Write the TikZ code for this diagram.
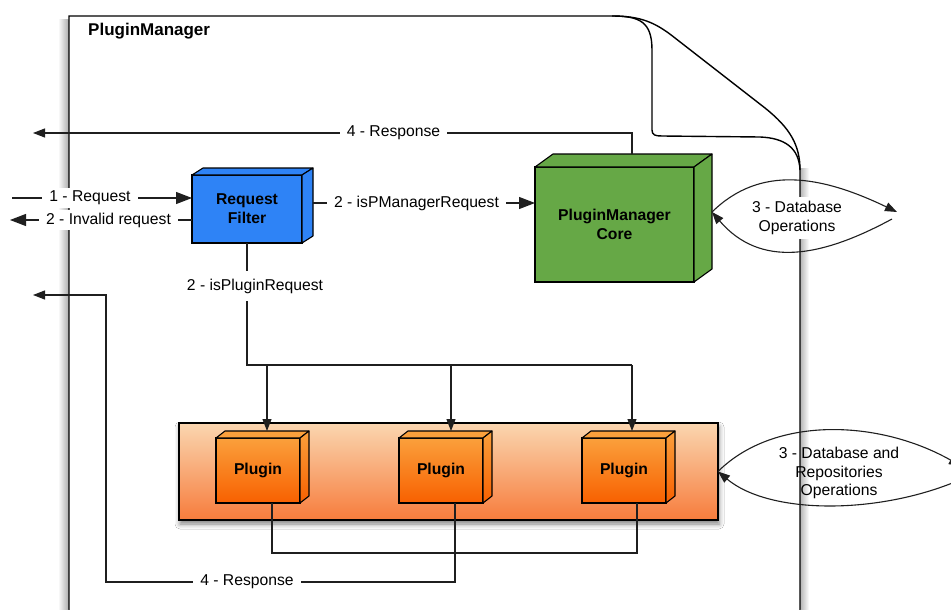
\documentclass[tikz,border=0pt]{standalone}
\usepackage{fontspec}
\setmainfont{Liberation Sans}
\usetikzlibrary{arrows.meta,calc,shadows.blur}
\definecolor{filterblue}{RGB}{46,131,246}
\definecolor{coregreen}{RGB}{102,168,70}
\definecolor{pltop}{RGB}{250,160,60}
\definecolor{plbot}{RGB}{248,96,0}
\definecolor{contop}{RGB}{250,214,176}
\definecolor{conbot}{RGB}{247,124,60}
\newcommand{\cubefaces}[5]{%
  \draw[face,#4] (#1.north west) -- ($(#1.north west)+(#2,-#3)$) -- ($(#1.north east)+(#2,-#3)$) -- (#1.north east) -- cycle;
  \draw[face,#5] (#1.north east) -- ($(#1.north east)+(#2,-#3)$) -- ($(#1.south east)+(#2,-#3)$) -- (#1.south east) -- cycle;}
\begin{document}
\begin{tikzpicture}[x=1pt,y=-1pt,
  ln/.style={draw=black!88, line width=1.1pt},
  arr/.style={ln, -{Triangle[length=12pt,width=9pt]}},
  bigarr/.style={ln, -{Triangle[length=16pt,width=12pt]}},
  lbl/.style={fill=white, inner xsep=7pt, inner ysep=3pt, font=\fontsize{15.7}{18.5}\selectfont, align=center},
  bold/.style={font=\fontsize{15.7}{19}\selectfont\bfseries, align=center},
  cube/.style={draw=black, line width=1.1pt, outer sep=0pt, inner sep=0pt},
  face/.style={draw=black, line width=1.1pt, line join=round},
  frameline/.style={draw=black, line width=1.4pt},
]
\useasboundingbox (0,0) rectangle (951,610);
\clip (0,0) rectangle (951,610);
\fill[white] (0,0) rectangle (951,610);

% frame shadows
\shade[left color=white, right color=black!32] (58,20) rectangle (68.5,615);
\shade[left color=black!28, right color=white] (800.5,168) rectangle (809,615);

% frame
\draw[frameline] (69,615) -- (69,16) -- (612,16) .. controls (640,16) and (655,22) .. (675,38) -- (765,108) .. controls (790,128) and (800,145) .. (800,170) -- (800,615);
\draw[frameline] (612,16) .. controls (640,16) and (652,22) .. (652,50) -- (652,130) .. controls (652,135) and (655,136) .. (662,136) -- (760,137) .. controls (785,138) and (799,148) .. (800,170);
\node[anchor=west, inner sep=0pt, font=\fontsize{17}{20}\selectfont\bfseries] (title) at (88,31.5) {PluginManager};

% request filter
\node[cube, bold, fill=filterblue, minimum width=110pt, minimum height=68pt] (filter) at (247,209) {Request\\Filter};
\cubefaces{filter}{11}{7}{fill=filterblue}{fill=filterblue}

% core
\node[cube, bold, fill=coregreen, minimum width=159pt, minimum height=115pt] (core) at (614.5,224.5) {PluginManager\\Core};
\cubefaces{core}{18}{13}{fill=coregreen}{fill=coregreen}

% plugin container
\node[cube, top color=contop, bottom color=conbot, minimum width=539pt, minimum height=97pt,
  blur shadow={shadow xshift=1pt, shadow yshift=-4pt, shadow blur radius=5pt, shadow opacity=50}] (plugs) at (448.5,471.5) {};

% plugins
\node[cube, bold, top color=pltop, bottom color=plbot, minimum width=84pt, minimum height=65pt] (p1) at (258,470.5) {Plugin};
\cubefaces{p1}{9}{7}{fill=pltop}{top color=pltop, bottom color=plbot}
\node[cube, bold, top color=pltop, bottom color=plbot, minimum width=84pt, minimum height=65pt] (p2) at (441,470.5) {Plugin};
\cubefaces{p2}{9}{7}{fill=pltop}{top color=pltop, bottom color=plbot}
\node[cube, bold, top color=pltop, bottom color=plbot, minimum width=84pt, minimum height=65pt] (p3) at (624,470.5) {Plugin};
\cubefaces{p3}{9}{7}{fill=pltop}{top color=pltop, bottom color=plbot}

% top response
\coordinate (coreTop) at ([xshift=17.5pt, yshift=13pt]core.north);
\coordinate (respOut1) at (33,133);
\draw[arr] (coreTop) |- (respOut1);
\node[lbl] (lresp1) at (393.5,133) {4 - Response};

% request / invalid request
\coordinate (reqIn) at (12,198);
\draw[bigarr] (reqIn) -- (reqIn -| filter.west);
\node[lbl] (lreq) at (90,198) {1 - Request};
\coordinate (invOut) at (10,220);
\draw[bigarr] (invOut -| filter.west) -- (invOut);
\node[lbl] (linv) at (108.5,220) {2 - Invalid request};

% pm request
\coordinate (pmStart) at ([xshift=11pt, yshift=6pt]filter.east);
\draw[bigarr] (pmStart) -- (pmStart -| core.west);
\node[lbl] (lpm) at (416.5,203) {2 - isPManagerRequest};

% plugin request bus
\coordinate (bus1) at (267,365);
\coordinate (bus2) at (451,365);
\coordinate (bus3) at (632,365);
\draw[ln] (filter.south) |- (bus3);
\node[lbl, inner ysep=8pt] (lpr) at (255,286) {2 - isPluginRequest};
\coordinate (p1top) at ([yshift=7pt]p1.north);
\coordinate (p2top) at ([yshift=7pt]p2.north);
\coordinate (p3top) at ([yshift=7pt]p3.north);
\draw[arr] (bus1) -- (bus1 |- p1top);
\draw[arr] (bus2) -- (bus2 |- p2top);
\draw[arr] (bus3) -- (bus3 |- p3top);

% plugin returns
\coordinate (p1out) at ([xshift=14pt]p1.south);
\coordinate (p3out) at ([xshift=13pt]p3.south);
\draw[ln] (p1out) -- ++(0,50) -| (p3out);
\coordinate (p2out) at ([xshift=14pt]p2.south);
\coordinate (bend) at (106,582);
\coordinate (respOut2) at (33,295);
\draw[arr] (p2out) |- (bend) |- (respOut2);
\node[lbl] (lresp2) at (247,582) {4 - Response};

% database operations lens
\coordinate (coreSide) at ([xshift=18pt, yshift=12.5pt]core.east);
\coordinate (dbR1) at (897,212);
\coordinate (dbR2) at (892,219);
\draw[arr] (coreSide) .. controls (760,165) and (820,175) .. (dbR1);
\draw[arr] (dbR2) .. controls (820,258) and (760,268) .. (coreSide);
\node[lbl, inner xsep=3pt, inner ysep=4pt] (ldb) at (797,218) {3 - Database\\Operations};

% database and repositories lens
\coordinate (plR1) at (961,466);
\coordinate (plR2) at (962,479);
\draw[arr] (plugs.east) .. controls (775,415) and (880,420) .. (plR1);
\draw[arr] (plR2) .. controls (880,515) and (770,515) .. (plugs.east);
\node[font=\fontsize{15.7}{18.5}\selectfont, align=center, inner sep=0pt] (ldbr) at (839,473) {3 - Database and\\Repositories\\Operations};
\end{tikzpicture}
\end{document}
